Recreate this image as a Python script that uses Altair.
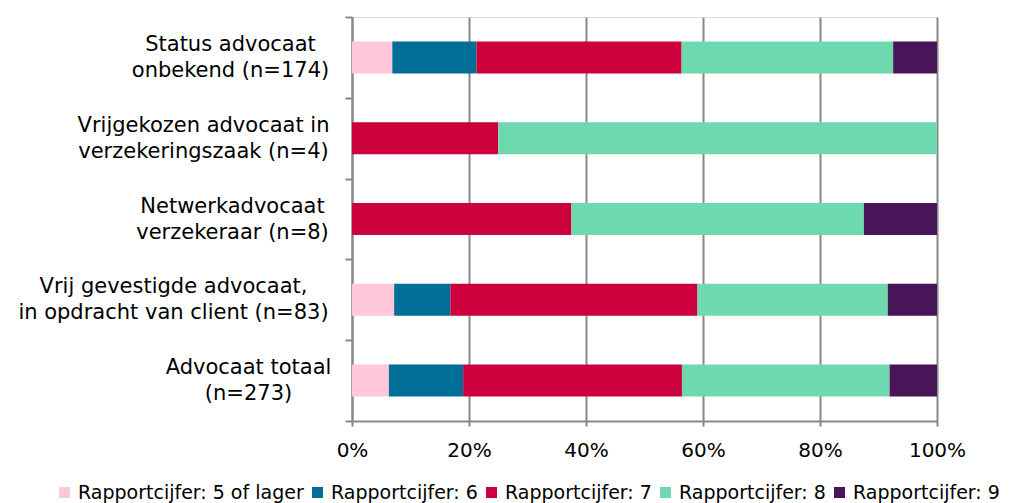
import altair as alt
import pandas as pd

categories = [
    "Status advocaat |onbekend (n=174)",
    "Vrijgekozen advocaat in|verzekeringszaak (n=4)",
    "Netwerkadvocaat |verzekeraar (n=8)",
    "Vrij gevestigde advocaat,|in opdracht van client (n=83)",
    "Advocaat totaal|(n=273)",
]
ratings = [
    "Rapportcijfer: 5 of lager",
    "Rapportcijfer: 6",
    "Rapportcijfer: 7",
    "Rapportcijfer: 8",
    "Rapportcijfer: 9",
]
colors = ["#FFC7DA", "#006E96", "#CC003C", "#6ED8AE", "#481559"]

# percentage per category, per rating (5 of lager, 6, 7, 8, 9)
status_onbekend = [6.9, 14.4, 35.1, 36.2, 7.5]
vrijgekozen = [0.0, 0.0, 25.0, 75.0, 0.0]
netwerk = [0.0, 0.0, 37.5, 50.0, 12.5]
vrij_gevestigd = [7.2, 9.6, 42.2, 32.5, 8.4]
totaal = [6.3, 12.7, 37.4, 35.5, 8.1]
series = [status_onbekend, vrijgekozen, netwerk, vrij_gevestigd, totaal]

# label centres offsets (padding from tick to centre of label block)
label_pad = [115, 142, 113, 172, 97]

rows = []
for cat, vals in zip(categories, series):
    for i, (r, v) in enumerate(zip(ratings, vals)):
        rows.append({"cat": cat, "rating": r, "value": v, "order": i})
df = pd.DataFrame(rows)

FONT = "DejaVu Sans"
GRAY = "#888888"

pad_cond = {
    "condition": [
        {"test": f"datum.value === '{c}'", "value": p}
        for c, p in zip(categories[:-1], label_pad[:-1])
    ],
    "value": label_pad[-1],
}

chart = (
    alt.Chart(df)
    .mark_bar(size=32)
    .encode(
        y=alt.Y(
            "cat:N",
            sort=categories,
            scale=alt.Scale(paddingInner=0, paddingOuter=0),
            axis=alt.Axis(
                title=None,
                tickBand="extent",
                tickSize=7,
                tickWidth=2,
                tickColor=GRAY,
                domainColor=GRAY,
                domainWidth=2,
                grid=False,
                labelFont=FONT,
                labelFontSize=21,
                labelColor="#000000",
                labelLineHeight=26,
                labelAlign="center",
                labelBaseline="middle",
                labelOffset=-13,
                labelPadding=pad_cond,
                labelExpr="split(datum.label, '|')",
                labelLimit=0,
            ),
        ),
        x=alt.X(
            "value:Q",
            stack="normalize",
            scale=alt.Scale(domain=[0, 1], nice=False),
            axis=alt.Axis(
                title=None,
                values=[0, 0.2, 0.4, 0.6, 0.8, 1.0],
                format=".0%",
                grid=True,
                gridColor=GRAY,
                gridWidth=2,
                tickSize=5,
                tickWidth=2,
                tickColor=GRAY,
                domainColor=GRAY,
                domainWidth=2,
                labelFont=FONT,
                labelFontSize=20,
                labelColor="#000000",
                labelPadding=14,
                labelFlush=False,
            ),
        ),
        color=alt.Color(
            "rating:N",
            scale=alt.Scale(domain=ratings, range=colors),
            legend=alt.Legend(
                title=None,
                orient="none",
                legendX=-297,
                legendY=466,
                direction="horizontal",
                symbolType="square",
                symbolSize=121,
                symbolStrokeWidth=0,
                labelFont=FONT,
                labelFontSize=19,
                labelColor="#000000",
                labelOffset=4,
                labelLimit=0,
                columnPadding=4,
                gridAlign="none",
            ),
        ),
        order=alt.Order("order:Q"),
    )
    .properties(
        width=585,
        height=404,
        autosize=alt.AutoSizeParams(type="none"),
        padding={"left": 344, "top": 9, "right": 68, "bottom": 82},
    )
    .configure_view(stroke=None)
    .configure(background="white")
)

chart.save("out.html", embed_options={"renderer": "svg", "actions": False})
